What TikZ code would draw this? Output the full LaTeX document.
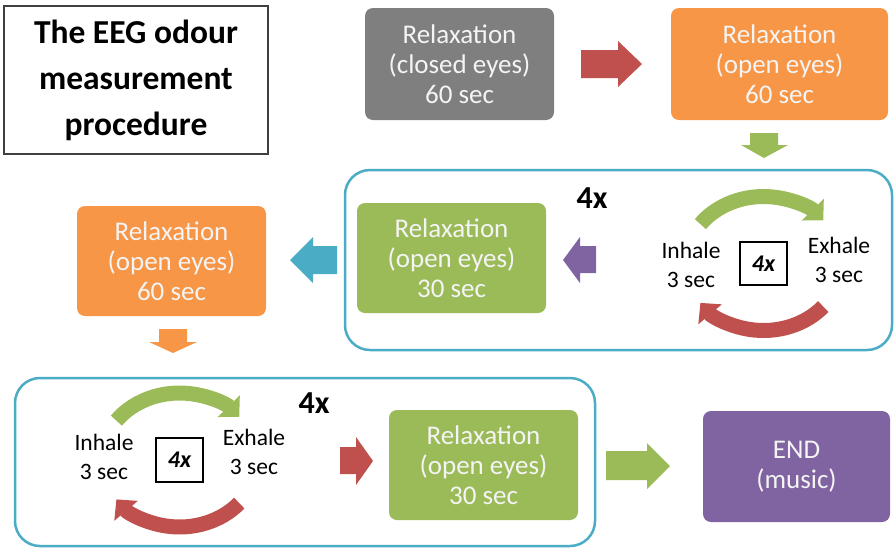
\documentclass[tikz,border=0pt]{standalone}
\usepackage{fontspec}
\setmainfont{Carlito}
\usetikzlibrary{arrows.meta}
\definecolor{cGray}{HTML}{7F7F7F}
\definecolor{cOrange}{HTML}{F79646}
\definecolor{cGreen}{HTML}{9BBB59}
\definecolor{cPurple}{HTML}{8064A2}
\definecolor{cBlue}{HTML}{4BACC6}
\definecolor{cRed}{HTML}{C0504D}
\definecolor{cText}{HTML}{F4F4F4}
\tikzset{
  box/.style={rounded corners=8pt, inner sep=0pt, text=cText, align=center,
    font=\fontsize{27}{30}\selectfont},
  frame/.style={draw=cBlue, line width=2.5pt, rounded corners=25pt, inner sep=0pt},
  lbl/.style={align=center, inner sep=0pt, font=\fontsize{23.5}{29}\selectfont},
  fourbox/.style={draw=black, line width=2pt, inner sep=0pt, minimum width=47pt, minimum height=43pt,
    font=\fontsize{24}{26}\selectfont\bfseries\itshape},
  fourx/.style={inner sep=0pt, font=\fontsize{32}{34}\selectfont\bfseries},
  band/.style={line width=15pt, -{Triangle[width=30pt,length=15pt]}},
}
\begin{document}
\begin{tikzpicture}[x=1pt,y=-1pt]
\useasboundingbox (0,0) rectangle (894,547);
% title
\node[draw=black!75, line width=1.2pt, minimum width=264pt, minimum height=148pt, inner sep=0pt,
  align=center, font=\fontsize{33.5}{46}\selectfont\bfseries] (title) at (136,80)
  {The EEG odour\\measurement\\procedure};
% frames
\node[frame, minimum width=547pt, minimum height=180pt] (frameA) at (618.5,260) {};
\node[frame, minimum width=580pt, minimum height=168pt] (frameB) at (305,462) {};
% boxes
\node[box, fill=cGray, minimum width=189pt, minimum height=112pt] (b1) at (459.5,64) {Relaxation\\(closed eyes)\\60 sec};
\node[box, fill=cOrange, minimum width=217pt, minimum height=112pt] (b2) at (779.5,64) {Relaxation\\(open eyes)\\60 sec};
\node[box, fill=cGreen, minimum width=189pt, minimum height=110pt] (b3) at (451.5,258) {Relaxation\\(open eyes)\\30 sec};
\node[box, fill=cOrange, minimum width=189pt, minimum height=110pt] (b4) at (171.5,261) {Relaxation\\(open eyes)\\60 sec};
\node[box, fill=cGreen, minimum width=189pt, minimum height=110pt] (b5) at (483.5,465) {Relaxation\\(open eyes)\\30 sec};
\node[box, fill=cPurple, minimum width=187pt, minimum height=111pt] (b6) at (796.5,466.5) {END\\(music)};
% 4x labels
\node[fourx] (fxA) at (592,198) {4x};
\node[fourx] (fxB) at (314,403) {4x};
% cycle A
\node[fourbox] (cA) at (763.5,263.5) {4x};
\node[lbl] (inA) at (691,264.5) {Inhale\\3 sec};
\node[lbl] (exA) at (839,260) {Exhale\\3 sec};
\draw[band, cGreen] (cA.center) ++(216:78 and 67) arc[start angle=216, end angle=320, x radius=78, y radius=67];
\draw[band, cRed] (cA.center) ++(40:78 and 67) arc[start angle=40, end angle=144, x radius=78, y radius=67];
% cycle B
\node[fourbox, minimum height=44pt] (cB) at (179.5,460) {4x};
\node[lbl] (inB) at (104,456.5) {Inhale\\3 sec};
\node[lbl] (exB) at (254,452) {Exhale\\3 sec};
\draw[band, cGreen] (cB.center) ++(216:78 and 67) arc[start angle=216, end angle=320, x radius=78, y radius=67];
\draw[band, cRed] (cB.center) ++(40:78 and 67) arc[start angle=40, end angle=144, x radius=78, y radius=67];
% block arrows
\fill[cRed] (581,50) -- (618,50) -- (618,41) -- (642,64) -- (618,87) -- (618,78) -- (581,78) -- cycle;
\fill[cGreen] (750,133) -- (778,133) -- (778,145) -- (788,145) -- (764,158) -- (741,145) -- (750,145) -- cycle;
\fill[cPurple] (596,246) -- (580,246) -- (580,237) -- (563,260) -- (580,283) -- (580,273) -- (596,273) -- cycle;
\fill[cBlue] (337,246) -- (313,246) -- (313,237) -- (290,260) -- (313,283) -- (313,274) -- (337,274) -- cycle;
\fill[cOrange] (159,329) -- (187,329) -- (187,342) -- (197,342) -- (173,353) -- (149,342) -- (159,342) -- cycle;
\fill[cRed] (340,447) -- (356,447) -- (356,437) -- (373,461) -- (356,485) -- (356,474) -- (340,474) -- cycle;
\fill[cGreen] (606,451) -- (647,451) -- (647,443) -- (670,466) -- (647,489) -- (647,480) -- (606,480) -- cycle;
\end{tikzpicture}
\end{document}
